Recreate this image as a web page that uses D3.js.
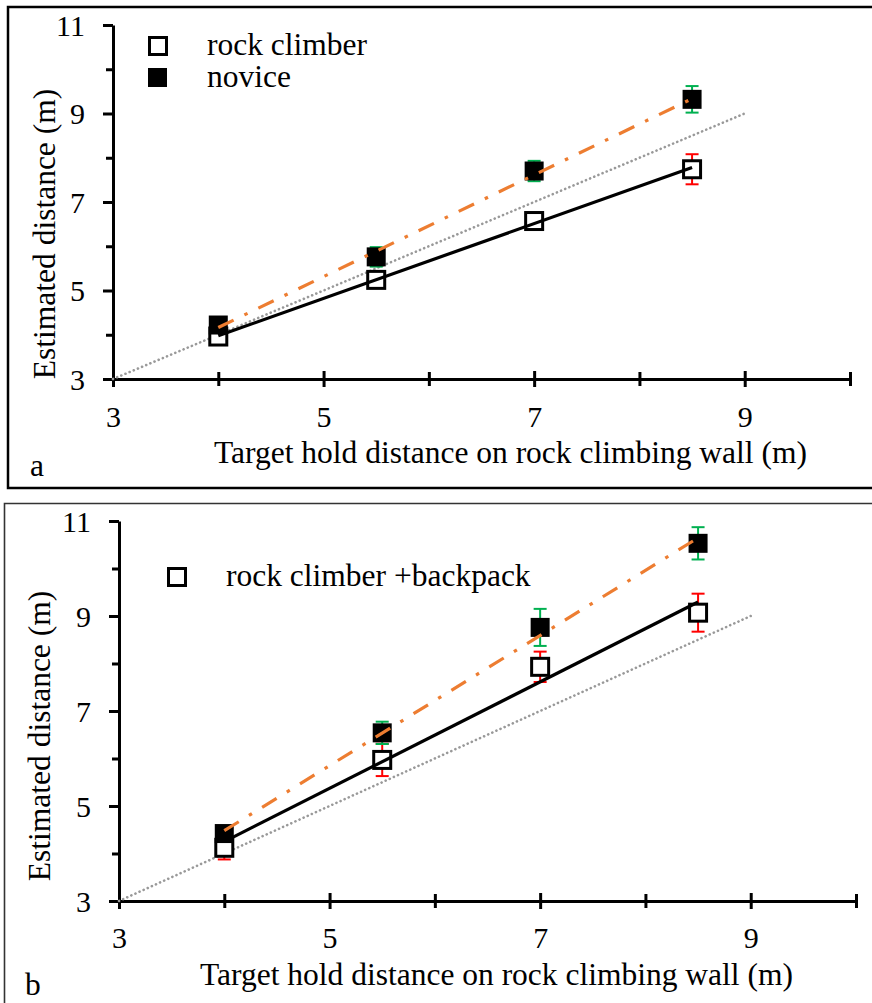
<!DOCTYPE html>
<html>
<head>
<meta charset="utf-8">
<script src="https://cdn.jsdelivr.net/npm/d3@7"></script>
<style>
  html, body { margin: 0; padding: 0; background: #fff; }
  svg { display: block; }
</style>
</head>
<body>
<svg id="chart" width="872" height="1003" font-family="'Liberation Serif', 'Times New Roman', serif"></svg>
<script>
// ---- data ----
const targets = [4, 5.5, 7, 8.5];
const climberA = [3.96, 5.24, 6.57, 7.74];
const climberAErr = [0.08, 0.12, 0.18, 0.34];
const noviceA = [4.22, 5.76, 7.70, 9.32];
const noviceAErr = [0.10, 0.22, 0.23, 0.30];
const climberB = [4.12, 5.97, 7.93, 9.07];
const climberBErr = [0.245, 0.34, 0.32, 0.40];
const noviceB = [4.42, 6.54, 8.76, 10.53];
const noviceBErr = [0.12, 0.235, 0.39, 0.34];
const xTicks = [3, 4, 5, 6, 7, 8, 9, 10];
const yTicks = [3, 4, 5, 6, 7, 8, 9, 10, 11];
const identity = [3, 9];
const xTitle = "Target hold distance on rock climbing wall (m)";
const yTitle = "Estimated distance (m)";

const FONT = "'Liberation Serif', 'Times New Roman', serif";
const svg = d3.select("#chart");
const ORANGE = "#ED7D31", GREEN = "#00B050", RED = "#FF0000";

function regress(xs, ys) {
  const mx = d3.mean(xs), my = d3.mean(ys);
  let sxy = 0, sxx = 0;
  xs.forEach((x, i) => { sxy += (x - mx) * (ys[i] - my); sxx += (x - mx) * (x - mx); });
  const b = sxy / sxx, a = my - b * mx;
  return x => a + b * x;
}

function txt(g, size) {
  return g.append("text").attr("font-family", FONT).style("font-family", FONT)
    .style("font-size", size + "px").attr("fill", "#000");
}

function panel(cfg) {
  const g = svg.append("g");
  const x = d3.scaleLinear().domain([3, 10]).range(cfg.xr);
  const y = d3.scaleLinear().domain([3, 11]).range(cfg.yr);

  // frame
  g.append("path").attr("d", cfg.frame).attr("fill", "none")
    .attr("stroke", cfg.frameColor).attr("stroke-width", cfg.frameW);

  // y axis
  const ya = g.append("g").attr("transform", `translate(${cfg.xr[0]},0)`)
    .call(d3.axisLeft(y).tickValues(yTicks).tickSizeOuter(0)
      .tickFormat(d => d % 2 ? d : ""));
  ya.attr("font-family", FONT);
  ya.select(".domain").attr("stroke", "#000").attr("stroke-width", 3);
  ya.selectAll(".tick line").attr("stroke", "#000").attr("stroke-width", 3)
    .attr("x2", d => d % 2 ? -10 : -7);
  ya.selectAll(".tick text").attr("x", -28).attr("dy", "0.34em").attr("fill", "#000")
    .style("font-size", "30px").style("font-family", FONT);

  // x axis
  const xa = g.append("g").attr("transform", `translate(0,${cfg.yr[0]})`)
    .call(d3.axisBottom(x).tickValues(xTicks).tickSizeOuter(0)
      .tickFormat(d => d % 2 ? d : ""));
  xa.attr("font-family", FONT);
  xa.select(".domain").attr("stroke", "#000").attr("stroke-width", 3);
  xa.selectAll(".tick line").attr("stroke", "#000").attr("stroke-width", 3)
    .attr("y1", d => d % 2 ? -8 : -7).attr("y2", d => d % 2 ? 8 : 7);
  xa.selectAll(".tick text").attr("y", cfg.xLabOff).attr("dy", 0).attr("fill", "#000")
    .style("font-size", "30px").style("font-family", FONT);

  // titles
  txt(g, 31.5).attr("x", cfg.xTitle[0]).attr("y", cfg.xTitle[1]).text(xTitle);
  txt(g, 31.5).attr("transform", `translate(${cfg.yTitle[0]},${cfg.yTitle[1]}) rotate(-90)`)
    .attr("text-anchor", "middle").text(yTitle);
  txt(g, 31.5).attr("x", cfg.letter[0]).attr("y", cfg.letter[1]).text(cfg.letterText);

  // identity line
  g.append("line")
    .attr("x1", x(identity[0])).attr("y1", y(identity[0]))
    .attr("x2", x(identity[1])).attr("y2", y(identity[1]))
    .attr("stroke", "#999").attr("stroke-width", 2.6)
    .attr("stroke-linecap", "round").attr("stroke-dasharray", "0.1,4.4");

  // error bars
  function errBars(vals, errs, color) {
    targets.forEach((t, i) => {
      const cx = x(t), y1 = y(vals[i] + errs[i]), y2 = y(vals[i] - errs[i]);
      const eg = g.append("g").attr("stroke", color).attr("stroke-width", 2);
      eg.append("line").attr("x1", cx).attr("x2", cx).attr("y1", y1).attr("y2", y2);
      eg.append("line").attr("x1", cx - 6.5).attr("x2", cx + 6.5).attr("y1", y1).attr("y2", y1);
      eg.append("line").attr("x1", cx - 6.5).attr("x2", cx + 6.5).attr("y1", y2).attr("y2", y2);
    });
  }
  errBars(cfg.climber, cfg.climberErr, RED);
  errBars(cfg.novice, cfg.noviceErr, GREEN);

  // markers
  g.selectAll(".open").data(targets).enter().append("rect")
    .attr("x", (d) => x(d) - 8.5).attr("y", (d, i) => y(cfg.climber[i]) - 8.5)
    .attr("width", 17).attr("height", 17)
    .attr("fill", "#fff").attr("stroke", "#000").attr("stroke-width", 3);
  g.selectAll(".filled").data(targets).enter().append("rect")
    .attr("x", (d) => x(d) - 9.5).attr("y", (d, i) => y(cfg.novice[i]) - 9.5)
    .attr("width", 19).attr("height", 19).attr("fill", "#000");

  // trendlines
  const fc = regress(targets, cfg.climber);
  const fn = regress(targets, cfg.novice);
  const x0 = d3.min(targets), x1 = d3.max(targets);
  g.append("line").attr("x1", x(x0)).attr("y1", y(fc(x0))).attr("x2", x(x1)).attr("y2", y(fc(x1)))
    .attr("stroke", "#000").attr("stroke-width", 3.2);
  g.append("line").attr("x1", x(x0)).attr("y1", y(fn(x0))).attr("x2", x(x1)).attr("y2", y(fn(x1)))
    .attr("stroke", ORANGE).attr("stroke-width", 3.2)
    .attr("stroke-dasharray", "17,12,3.5,12");

  // legend
  cfg.legend.forEach(L => {
    if (L.filled) {
      g.append("rect").attr("x", L.sx - 9.5).attr("y", L.sy - 9.5).attr("width", 19).attr("height", 19).attr("fill", "#000");
    } else {
      g.append("rect").attr("x", L.sx - 8.5).attr("y", L.sy - 8.5).attr("width", 17).attr("height", 17)
        .attr("fill", "#fff").attr("stroke", "#000").attr("stroke-width", 3);
    }
    txt(g, 31.5).attr("x", L.tx).attr("y", L.ty).text(L.label);
  });
}

panel({
  xr: [113, 850], yr: [379, 25],
  frame: "M875,7 H8 V488 H875",
  frameColor: "#000", frameW: 2.5,
  xLabOff: 48, xTitle: [214, 463], yTitle: [55, 234],
  letter: [30, 476], letterText: "a",
  climber: climberA, climberErr: climberAErr,
  novice: noviceA, noviceErr: noviceAErr,
  legend: [
    { sx: 158, sy: 46, tx: 207, ty: 55, label: "rock climber", filled: false },
    { sx: 157.5, sy: 77.5, tx: 207, ty: 87, label: "novice", filled: true }
  ]
});

panel({
  xr: [119, 856], yr: [901, 521],
  frame: "M875,503.5 H4.5 V1010",
  frameColor: "#333", frameW: 1.6,
  xLabOff: 47, xTitle: [200, 985], yTitle: [50, 736],
  letter: [25, 995], letterText: "b",
  climber: climberB, climberErr: climberBErr,
  novice: noviceB, noviceErr: noviceBErr,
  legend: [
    { sx: 177, sy: 577, tx: 226, ty: 586, label: "rock climber +backpack", filled: false }
  ]
});
</script>
</body>
</html>
